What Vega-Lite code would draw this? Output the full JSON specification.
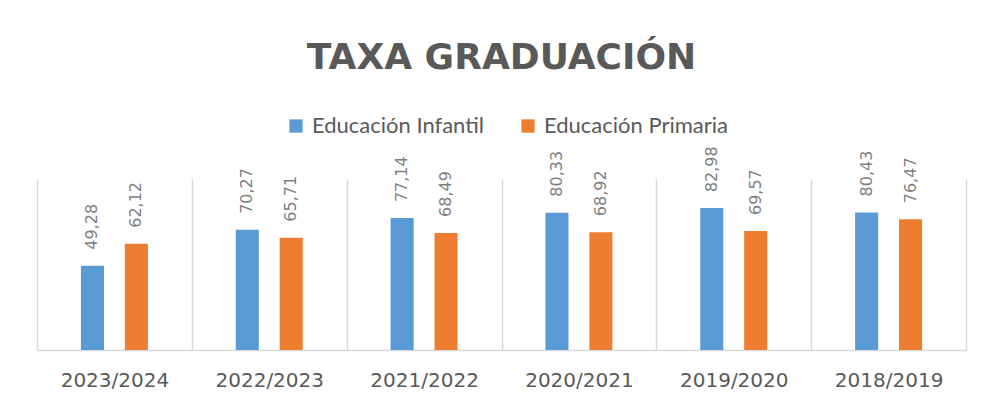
{
  "$schema": "https://vega.github.io/schema/vega-lite/v6.json",
  "width": 929,
  "height": 171,
  "autosize": {"type": "none"},
  "padding": {"left": 37, "top": 179, "right": 17, "bottom": 53},
  "background": "white",
  "config": {
    "view": {"stroke": null},
    "font": "DejaVu Sans",
    "locale": {"number": {"decimal": ",", "thousands": ".", "grouping": [3], "currency": ["", " €"]}}
  },
  "title": {
    "text": "TAXA GRADUACIÓN",
    "font": "DejaVu Sans",
    "fontSize": 36,
    "fontWeight": "bold",
    "color": "#595959",
    "anchor": "middle",
    "offset": 38
  },
  "data": {
    "values": [
      {"year": "2023/2024", "series": "Educación Infantil", "value": 49.28},
      {"year": "2023/2024", "series": "Educación Primaria", "value": 62.12},
      {"year": "2022/2023", "series": "Educación Infantil", "value": 70.27},
      {"year": "2022/2023", "series": "Educación Primaria", "value": 65.71},
      {"year": "2021/2022", "series": "Educación Infantil", "value": 77.14},
      {"year": "2021/2022", "series": "Educación Primaria", "value": 68.49},
      {"year": "2020/2021", "series": "Educación Infantil", "value": 80.33},
      {"year": "2020/2021", "series": "Educación Primaria", "value": 68.92},
      {"year": "2019/2020", "series": "Educación Infantil", "value": 82.98},
      {"year": "2019/2020", "series": "Educación Primaria", "value": 69.57},
      {"year": "2018/2019", "series": "Educación Infantil", "value": 80.43},
      {"year": "2018/2019", "series": "Educación Primaria", "value": 76.47}
    ]
  },
  "encoding": {
    "x": {
      "field": "year",
      "type": "nominal",
      "sort": null,
      "scale": {"paddingInner": 0, "paddingOuter": 0},
      "axis": {
        "title": null,
        "labelAngle": 0,
        "ticks": false,
        "tickBand": "extent",
        "domain": true,
        "domainColor": "#D9D9D9",
        "domainWidth": 1.5,
        "grid": true,
        "gridColor": "#D9D9D9",
        "gridWidth": 1.5,
        "labelPadding": 20,
        "labelFontSize": 20,
        "labelColor": "#595959",
        "labelFont": "DejaVu Sans"
      }
    },
    "xOffset": {
      "field": "series",
      "type": "nominal",
      "sort": ["Educación Infantil", "Educación Primaria"],
      "scale": {"paddingInner": 0.475, "paddingOuter": 1.1725}
    },
    "y": {
      "field": "value",
      "type": "quantitative",
      "scale": {"domain": [0, 100]},
      "axis": null
    }
  },
  "layer": [
    {
      "mark": {"type": "bar"},
      "encoding": {
        "color": {
          "field": "series",
          "type": "nominal",
          "sort": ["Educación Infantil", "Educación Primaria"],
          "scale": {"range": ["#5B9BD5", "#ED7D31"]},
          "legend": {
            "title": null,
            "orient": "none",
            "legendX": 248,
            "legendY": -64,
            "direction": "horizontal",
            "symbolType": "square",
            "symbolSize": 175,
            "symbolStrokeWidth": 0,
            "labelFont": "Lato",
            "labelFontSize": 22,
            "labelLimit": 400,
            "labelColor": "#595959",
            "labelOffset": 5,
            "columnPadding": 33
          }
        }
      }
    },
    {
      "mark": {
        "type": "text",
        "angle": 270,
        "align": "left",
        "baseline": "middle",
        "dx": 16,
        "fontSize": 16,
        "color": "#7F7F7F",
        "font": "DejaVu Sans"
      },
      "encoding": {
        "text": {"field": "value", "type": "quantitative", "format": ".2f"}
      }
    }
  ]
}
